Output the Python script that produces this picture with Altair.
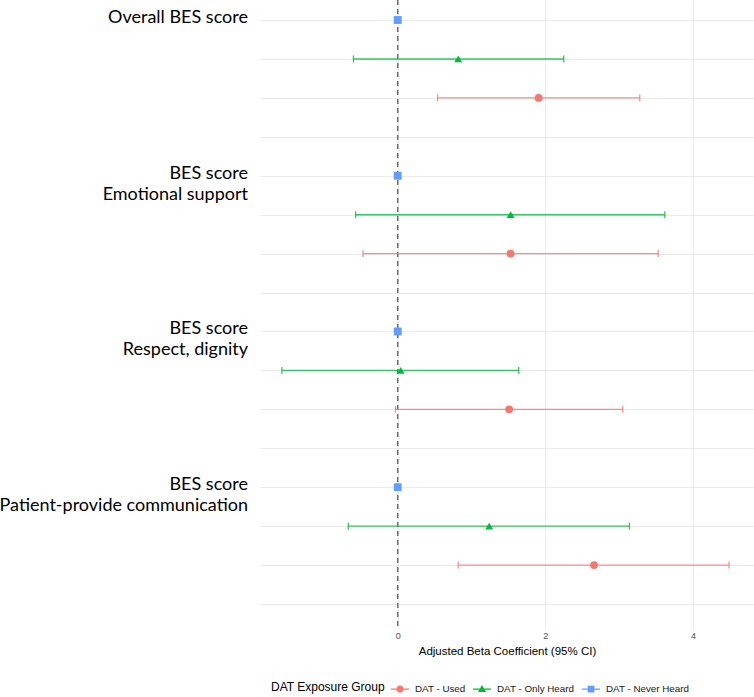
import altair as alt
import pandas as pd

# ---------------- data ----------------
outcomes = [
    "Overall BES score",
    "BES score\nEmotional support",
    "BES score\nRespect, dignity",
    "BES score\nPatient-provide communication",
]
groups = ["DAT - Used", "DAT - Only Heard", "DAT - Never Heard"]
colors = ["#F8766D", "#00BA38", "#619CFF"]

est_used = [1.91, 1.53, 1.51, 2.66]
lo_used = [0.54, -0.47, -0.03, 0.82]
hi_used = [3.28, 3.53, 3.05, 4.49]

est_only = [0.82, 1.53, 0.04, 1.24]
lo_only = [-0.60, -0.57, -1.57, -0.67]
hi_only = [2.25, 3.62, 1.64, 3.14]

est_never = [0.0, 0.0, 0.0, 0.0]  # reference group

x_ticks = [0, 2, 4]

# ---------------- tables ----------------
offset = {"DAT - Never Heard": 0, "DAT - Only Heard": 1, "DAT - Used": 2}
rows = []
for i, o in enumerate(outcomes):
    rows.append(dict(outcome=o, group="DAT - Never Heard", est=est_never[i], lo=None, hi=None))
    rows.append(dict(outcome=o, group="DAT - Only Heard", est=est_only[i], lo=lo_only[i], hi=hi_only[i]))
    rows.append(dict(outcome=o, group="DAT - Used", est=est_used[i], lo=lo_used[i], hi=hi_used[i]))
df = pd.DataFrame(rows)
df["row"] = [4 * outcomes.index(o) + offset[g] for o, g in zip(df["outcome"], df["group"])]
ci = df.dropna(subset=["lo"])

lab = pd.DataFrame({"label": outcomes, "row": [4 * i for i in range(len(outcomes))]})

n_rows = 4 * len(outcomes)
xscale = alt.Scale(domain=[-1.866, 4.828], nice=False, zero=False)
yscale = alt.Scale(domain=[-0.514, n_rows - 0.41], reverse=True, nice=False, zero=False)
yaxis = alt.Axis(values=list(range(n_rows)), labels=False, ticks=False, domain=False,
                 title=None, grid=True, gridColor="#EBEBEB", gridWidth=1)
xaxis = alt.Axis(values=x_ticks, format="d", title="Adjusted Beta Coefficient (95% CI)", grid=True,
                 gridColor="#EBEBEB", ticks=False, domain=False, labelPadding=4,
                 labelColor="#4D4D4D", labelFontSize=9, titleFontSize=11.5,
                 titleColor="black", titleFontWeight="normal", titlePadding=5,
                 labelFont="Liberation Sans", titleFont="Liberation Sans")

cscale = alt.Scale(domain=groups, range=colors)

zero_line = alt.Chart(pd.DataFrame({"z": [0]})).mark_rule(
    color="#6E6E6E", strokeDash=[5, 4], strokeWidth=1.5
).encode(x=alt.X("z:Q", scale=xscale, axis=xaxis))

grid_layer = alt.Chart(df).mark_point(opacity=0).encode(
    x=alt.X("est:Q", scale=xscale, axis=xaxis),
    y=alt.Y("row:Q", scale=yscale, axis=yaxis),
)

bars = alt.Chart(ci).mark_rule(strokeWidth=1.4, opacity=0.8).encode(
    x=alt.X("lo:Q", scale=xscale, axis=xaxis),
    x2="hi:Q",
    y=alt.Y("row:Q", scale=yscale, axis=yaxis),
    color=alt.Color("group:N", scale=cscale, legend=None),
)
cap_lo = alt.Chart(ci).mark_tick(orient="vertical", size=7, thickness=1.3, opacity=0.8).encode(
    x=alt.X("lo:Q", scale=xscale, axis=xaxis),
    y=alt.Y("row:Q", scale=yscale, axis=yaxis),
    color=alt.Color("group:N", scale=cscale, legend=None),
)
cap_hi = alt.Chart(ci).mark_tick(orient="vertical", size=7, thickness=1.3, opacity=0.8).encode(
    x=alt.X("hi:Q", scale=xscale, axis=xaxis),
    y=alt.Y("row:Q", scale=yscale, axis=yaxis),
    color=alt.Color("group:N", scale=cscale, legend=None),
)

points = alt.Chart(df).mark_point(filled=True, size=62, opacity=1).encode(
    x=alt.X("est:Q", scale=xscale, axis=xaxis),
    y=alt.Y("row:Q", scale=yscale, axis=yaxis),
    color=alt.Color("group:N", scale=cscale, legend=None),
    shape=alt.Shape("group:N", scale=alt.Scale(domain=groups, range=["circle", "triangle-up", "square"]),
                    legend=None),
)

# legend symbols: shape with a horizontal line through it
bar_path = "M-1,-0.075H1V0.075H-1Z"
legend_paths = [
    bar_path + " M0.4,0A0.4,0.4 0 1,1 -0.4,0A0.4,0.4 0 1,1 0.4,0Z",
    bar_path + " M0,-0.45L0.45,0.32L-0.45,0.32Z",
    bar_path + " M-0.37,-0.37H0.37V0.37H-0.37Z",
]
leg = alt.Legend(title="DAT Exposure Group", orient="none", legendX=11, legendY=680,
                 direction="horizontal", titleOrient="left", titleFontSize=12,
                 titleFontWeight="normal", titleColor="black", titleFont="Liberation Sans",
                 labelFont="Liberation Sans", labelFontSize=9.8, labelColor="#1A1A1A",
                 symbolSize=324, symbolStrokeWidth=0, symbolOpacity=1, labelOffset=6,
                 columnPadding=7, titlePadding=6, titleBaseline="middle", titleAnchor="middle")
legend_layer = alt.Chart(df).mark_point(filled=True, size=324, opacity=1).encode(
    x=alt.X("est:Q", scale=xscale, axis=xaxis),
    y=alt.Y("row:Q", scale=yscale, axis=yaxis),
    color=alt.Color("group:N", scale=cscale, legend=leg),
    shape=alt.Shape("group:N", scale=alt.Scale(domain=groups, range=legend_paths), legend=leg),
).transform_filter("false")

labels = alt.Chart(lab).mark_text(
    align="right", baseline="top", dy=-11, lineBreak="\n", font="Lato",
    fontSize=18, lineHeight=21, color="black"
).encode(
    x=alt.value(-12),
    y=alt.Y("row:Q", scale=yscale, axis=yaxis),
    text="label:N",
)

chart = alt.layer(
    grid_layer, zero_line, bars, cap_lo, cap_hi, points, legend_layer, labels
).resolve_scale(
    color="independent", shape="independent"
).properties(
    width=494, height=627,
    background="white",
    autosize=alt.AutoSizeParams(type="none"),
    padding={"left": 260, "top": 0, "right": 0, "bottom": 70},
).configure_view(strokeWidth=0, stroke="transparent").configure_axis(domain=False)

chart.save("out.html", embed_options={"renderer": "svg", "actions": False})
